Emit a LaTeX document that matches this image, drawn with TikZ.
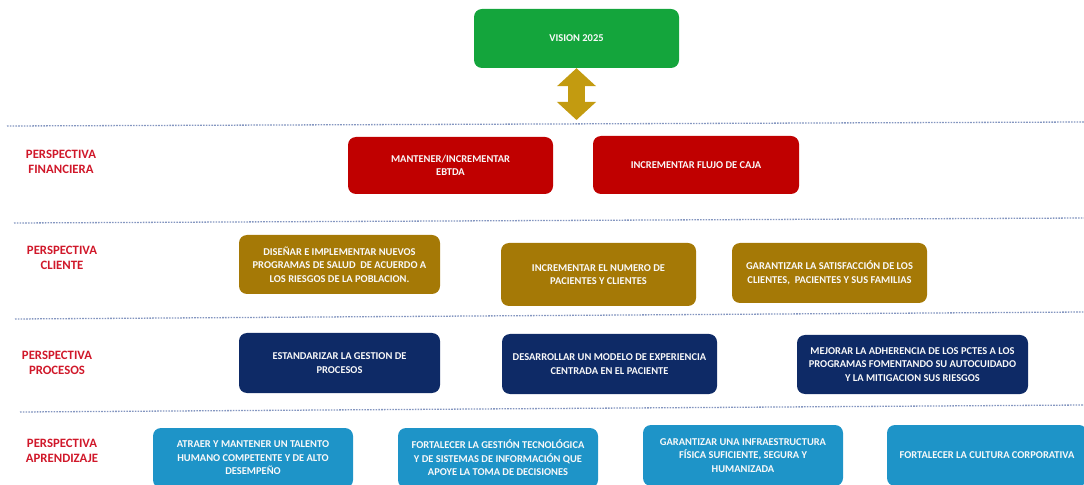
\documentclass[tikz,border=0pt]{standalone}
\usepackage{fontspec}
\setmainfont{Carlito}
\usepackage{xcolor}
\usepackage{tikz}
\usetikzlibrary{arrows.meta,positioning}
\definecolor{visiongreen}{HTML}{14A53C}
\definecolor{finred}{HTML}{C00000}
\definecolor{clientgold}{HTML}{A57906}
\definecolor{procnavy}{HTML}{0E2A66}
\definecolor{learnblue}{HTML}{1E94C8}
\definecolor{arrowgold}{HTML}{C39B10}
\definecolor{labelred}{HTML}{D0182A}
\definecolor{rulegray}{HTML}{8496C0}

\begin{document}
\begin{tikzpicture}[x=1bp,y=-1bp,
    obj/.style={fill=#1,rounded corners=8bp,align=center,text=white!95!gray,
      font=\bfseries\fontsize{10.5}{13.6}\selectfont,inner sep=2bp},
    persp/.style={text=labelred,align=center,
      font=\bfseries\fontsize{12.8}{15.5}\selectfont},
    sepline/.style={rulegray,line width=1.3bp,dash pattern=on 1.6bp off 1.2bp},
    bidir/.style={arrowgold,line width=17bp,
      {Triangle[width=38bp,length=18bp]}-{Triangle[width=38bp,length=18bp]}}]
    \clip (0,0) rectangle (1084,485);
    % separators
    \foreach \xa/\ya/\yb in {7/126/122,14/223/218,15/319/312,20/412/405}
      {\draw[sepline] (\xa,\ya) -- (1084,\yb);}
    % perspective labels
    \node[persp] (lfin) at (61,162) {PERSPECTIVA\\FINANCIERA};
    \node[persp] (lcli) at (62,258) {PERSPECTIVA\\CLIENTE};
    \node[persp] (lproc) at (57,363) {PERSPECTIVA\\PROCESOS};
    \node[persp] (lapr) at (62,451) {PERSPECTIVA\\APRENDIZAJE};
    % nodes
    \node[obj=visiongreen,minimum width=205bp,minimum height=59bp] (vision) at (576.5,38.5) {VISION 2025};
    \node[obj=finred,minimum width=205bp,minimum height=57bp] (fin1) at (450.5,165.5) {MANTENER/INCREMENTAR\\EBTDA};
    \node[obj=finred,minimum width=206bp,minimum height=58bp] (fin2) at (696,165) {INCREMENTAR FLUJO DE CAJA};
    \node[obj=clientgold,minimum width=201bp,minimum height=59bp] (cli1) at (339.5,264.5) {DISEÑAR E IMPLEMENTAR NUEVOS\\PROGRAMAS DE SALUD\ \ DE ACUERDO A\\LOS RIESGOS DE LA POBLACION.};
    \node[obj=clientgold,minimum width=195bp,minimum height=63bp] (cli2) at (598.5,274.5) {INCREMENTAR EL NUMERO DE\\PACIENTES Y CLIENTES};
    \node[obj=clientgold,minimum width=195bp,minimum height=60bp] (cli3) at (829.5,273) {GARANTIZAR LA SATISFACCIÓN DE LOS\\CLIENTES,\ \ PACIENTES Y SUS FAMILIAS};
    \node[obj=procnavy,minimum width=201bp,minimum height=60bp] (proc1) at (339.5,363) {ESTANDARIZAR LA GESTION DE\\PROCESOS};
    \node[obj=procnavy,minimum width=215bp,minimum height=60bp] (proc2) at (609.5,364) {DESARROLLAR UN MODELO DE EXPERIENCIA\\CENTRADA EN EL PACIENTE};
    \node[obj=procnavy,minimum width=231bp,minimum height=59bp] (proc3) at (912.5,364.5) {MEJORAR LA ADHERENCIA DE LOS PCTES A LOS\\PROGRAMAS FOMENTANDO SU AUTOCUIDADO\\Y LA MITIGACION SUS RIESGOS};
    \node[obj=learnblue,minimum width=200bp,minimum height=60bp] (apr1) at (253,458) {ATRAER Y MANTENER UN TALENTO\\HUMANO COMPETENTE Y DE ALTO\\DESEMPEÑO};
    \node[obj=learnblue,minimum width=200bp,minimum height=60bp] (apr2) at (498,458) {FORTALECER LA GESTIÓN TECNOLÓGICA\\Y DE SISTEMAS DE INFORMACIÓN QUE\\APOYE LA TOMA DE DECISIONES};
    \node[obj=learnblue,minimum width=200bp,minimum height=61bp] (apr3) at (743,455.5) {GARANTIZAR UNA INFRAESTRUCTURA\\FÍSICA SUFICIENTE, SEGURA Y\\HUMANIZADA};
    \node[obj=learnblue,minimum width=200bp,minimum height=61bp] (apr4) at (987,455.5) {FORTALECER LA CULTURA CORPORATIVA};
    % connectors
    \coordinate (finarrow) at (576.5,120);
    \draw[bidir] (vision.south) -- (finarrow);
  \end{tikzpicture}
\end{document}
